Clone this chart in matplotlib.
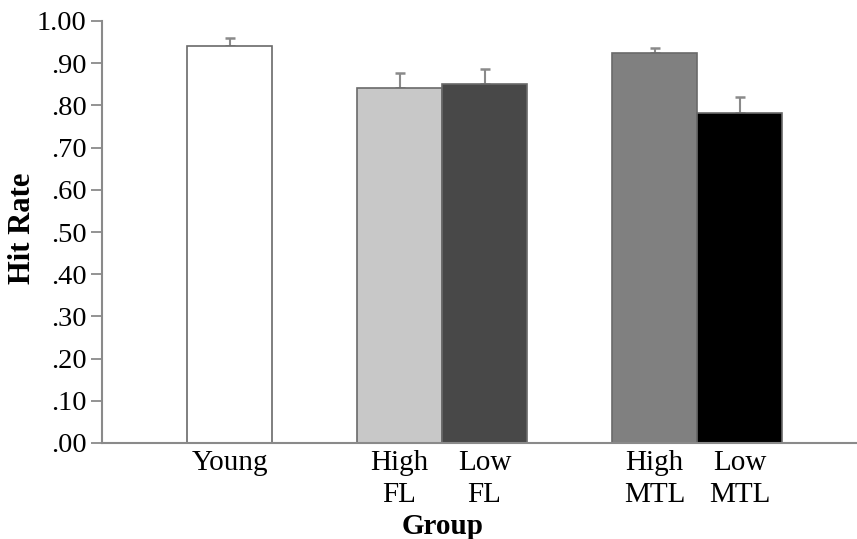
import matplotlib
matplotlib.use("Agg")
import matplotlib.pyplot as plt

groups = ["Young", "High\nFL", "Low\nFL", "High\nMTL", "Low\nMTL"]
hit_rate = [0.941, 0.841, 0.850, 0.923, 0.781]
err_upper = [0.018, 0.035, 0.036, 0.014, 0.040]
yticks = [0.0, 0.1, 0.2, 0.3, 0.4, 0.5, 0.6, 0.7, 0.8, 0.9, 1.0]
ytick_labels = [".00", ".10", ".20", ".30", ".40", ".50", ".60", ".70", ".80", ".90", "1.00"]

positions = [1.5, 3.5, 4.5, 6.5, 7.5]
colors = ["#ffffff", "#c8c8c8", "#484848", "#808080", "#000000"]

plt.rcParams['font.family'] = ['Liberation Serif', 'DejaVu Serif']

fig = plt.figure(figsize=(8.57, 5.39), dpi=100)
ax = fig.add_axes([102/857, 1-443/539, (856-102)/857, (443-21)/539])

ax.bar(positions, hit_rate, width=1.0, color=colors, edgecolor="#6a6a6a", linewidth=1.2, zorder=2)
ax.errorbar(positions, hit_rate, yerr=[[0]*len(hit_rate), err_upper], fmt="none",
            ecolor="#8a8a8a", elinewidth=1.5, capsize=3.5, capthick=1.8, zorder=1)

ax.set_xlim(0, 8.87)
ax.set_ylim(0, 1.0)
ax.set_yticks(yticks)
ax.set_yticklabels(ytick_labels, fontsize=20.5)
ax.set_xticks(positions)
ax.set_xticklabels(groups, fontsize=21, linespacing=1.3)
ax.tick_params(axis='x', length=0, pad=5)
ax.tick_params(axis='y', length=8, width=1.2, color="#808080", pad=3)

for s in ["top", "right"]:
    ax.spines[s].set_visible(False)
for s in ["left", "bottom"]:
    ax.spines[s].set_color("#8a8a8a")
    ax.spines[s].set_linewidth(1.5)

fig.text(23/857, 1-228/539, "Hit Rate", fontsize=22, fontweight="bold", rotation=90,
         ha="center", va="center")
fig.text(443/857, 1-527/539, "Group", fontsize=21, fontweight="bold", ha="center", va="center")

fig.savefig("out.png", dpi=100)
